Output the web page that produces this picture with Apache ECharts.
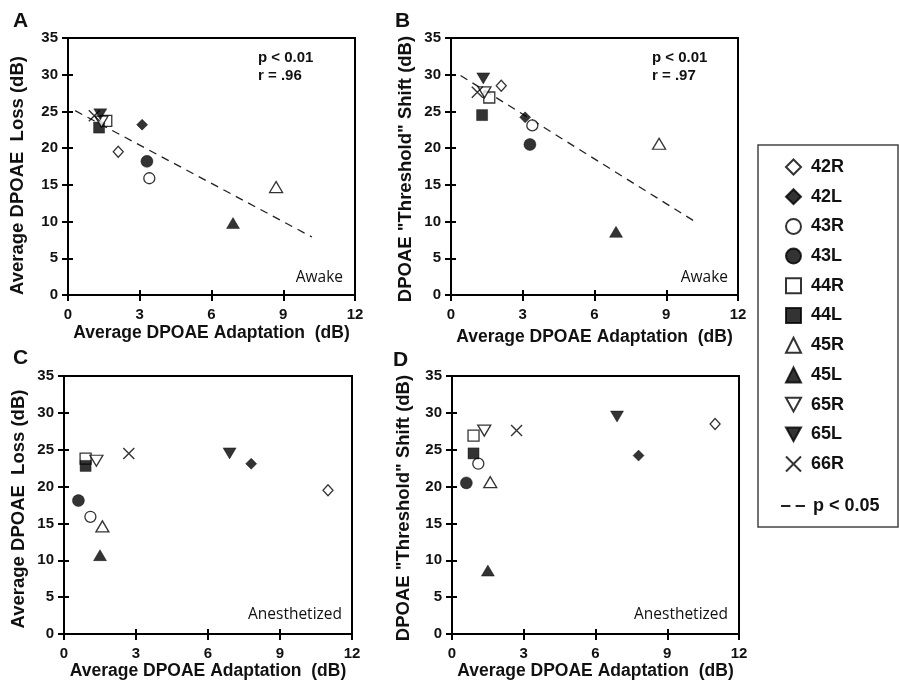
<!DOCTYPE html>
<html><head><meta charset="utf-8">
<script src="https://cdn.jsdelivr.net/npm/echarts@6/dist/echarts.min.js"></script>
<style>html,body{margin:0;padding:0;background:#fff}#c{width:899px;height:680px}</style>
</head><body><div id="c"></div>
<script>
// ---- data ----
const subjects = ['42R','42L','43R','43L','44R','44L','45R','45L','65R','65L','66R'];
const awakeAdapt = [2.1, 3.1, 3.4, 3.3, 1.6, 1.3, 8.7, 6.9, 1.4, 1.35, 1.1];
const awakeLoss  = [19.5, 23.2, 15.9, 18.2, 23.7, 22.8, 14.7, 9.8, 23.6, 24.6, 24.4];
const awakeShift = [28.5, 24.2, 23.1, 20.5, 26.9, 24.5, 20.6, 8.6, 27.6, 29.5, 27.6];
const anesAdapt  = [11.0, 7.8, 1.1, 0.6, 0.9, 0.9, 1.6, 1.5, 1.35, 6.9, 2.7];
const anesLoss   = [19.5, 23.1, 15.9, 18.1, 23.8, 22.8, 14.6, 10.7, 23.5, 24.5, 24.5];
const anesShift  = [28.5, 24.2, 23.1, 20.5, 26.9, 24.5, 20.6, 8.6, 27.6, 29.5, 27.6];
const fitA = [[0.3, 25.1], [10.2, 7.9]];
const fitB = [[0.4, 29.9], [10.3, 9.8]];
const xTickValues = [0, 3, 6, 9, 12];
const yTickValues = [0, 5, 10, 15, 20, 25, 30, 35];
const fitName = 'p < 0.05';

// ---- styles ----
const F = '"Liberation Sans", Arial, Helvetica, sans-serif';
const H = '"Open Sans", "Noto Sans", sans-serif';
const DOWN = 'path://M0,0L12,0L6,11Z';
const XMARK = 'path://M0,0L10,10M10,0L0,10';
const markStyles = [
  {symbol:'diamond', size:[10,11], open:true},
  {symbol:'diamond', size:[11,11], open:false},
  {symbol:'circle', size:11, open:true},
  {symbol:'circle', size:12, open:false},
  {symbol:'rect', size:11, open:true},
  {symbol:'rect', size:11, open:false},
  {symbol:'triangle', size:[13,11], open:true},
  {symbol:'triangle', size:[13,11], open:false},
  {symbol:DOWN, size:[13,11], open:true},
  {symbol:DOWN, size:[13,11], open:false},
  {symbol:XMARK, size:11, open:true, cross:true}
];

const grids = [
  {left:68, top:38, width:287, height:257},
  {left:451, top:38, width:287, height:257},
  {left:64, top:376, width:288, height:258},
  {left:452, top:376, width:287, height:258}
];
const xTitle = 'Average DPOAE Adaptation  (dB)';
const yTitles = ['Average DPOAE  Loss (dB)', 'DPOAE "Threshold" Shift (dB)', 'Average DPOAE  Loss (dB)', 'DPOAE "Threshold" Shift (dB)'];
const xNameGaps = [29, 33, 27, 27];
const yNameGaps = [41, 36, 36, 39];
const yNamePad = [[0,18,0,0],[0,5,0,0],[0,8,0,0],[0,6,0,0]];

const xAxes = [], yAxes = [];
grids.forEach((g, i) => {
  xAxes.push({
    gridIndex: i, type: 'value', min: xTickValues[0], max: xTickValues[xTickValues.length-1], interval: 3,
    name: xTitle, nameLocation: 'middle', nameGap: xNameGaps[i],
    nameTextStyle: {fontSize: 17.5, fontWeight: 'bold', fontFamily: F, color: '#111'},
    axisLine: {show: true, onZero: false, lineStyle: {color: '#000', width: 2}},
    axisTick: {show: true, length: 6, lineStyle: {color: '#000', width: 2}},
    axisLabel: {fontSize: 15, fontWeight: 'bold', fontFamily: F, color: '#111', margin: 12},
    splitLine: {show: false}
  });
  yAxes.push({
    gridIndex: i, type: 'value', min: yTickValues[0], max: yTickValues[yTickValues.length-1], interval: 5,
    name: yTitles[i], nameLocation: 'middle', nameGap: yNameGaps[i], nameRotate: 90,
    nameTextStyle: {fontSize: 18.5, fontWeight: 'bold', fontFamily: F, color: '#111', padding: yNamePad[i]},
    axisLine: {show: true, onZero: false, lineStyle: {color: '#000', width: 2}},
    axisTick: {show: true, length: 6, lineStyle: {color: '#000', width: 2}},
    axisLabel: {fontSize: 15, fontWeight: 'bold', fontFamily: F, color: '#111', margin: 10},
    splitLine: {show: false}
  });
});
// inner half of the crossing tick marks
grids.forEach((g, i) => {
  xAxes.push({
    gridIndex: i, type: 'value', min: xTickValues[0], max: xTickValues[xTickValues.length-1], interval: 3,
    position: 'bottom', axisLine: {show: false, onZero: false},
    axisTick: {show: true, inside: true, length: 5, lineStyle: {color: '#000', width: 2}},
    axisLabel: {show: false}, splitLine: {show: false}
  });
  yAxes.push({
    gridIndex: i, type: 'value', min: yTickValues[0], max: yTickValues[yTickValues.length-1], interval: 5,
    position: 'left', axisLine: {show: false, onZero: false},
    axisTick: {show: true, inside: true, length: 5, lineStyle: {color: '#000', width: 2}},
    axisLabel: {show: false}, splitLine: {show: false}
  });
});

const panels = [
  {xs: awakeAdapt, ys: awakeLoss},
  {xs: awakeAdapt, ys: awakeShift},
  {xs: anesAdapt, ys: anesLoss},
  {xs: anesAdapt, ys: anesShift}
];

const series = [];
[fitA, fitB].forEach((fit, i) => {
  series.push({
    name: fitName, type: 'line', xAxisIndex: i, yAxisIndex: i, data: fit,
    symbol: 'none', z: 1,
    lineStyle: {color: '#222', width: 1.3, type: [8, 6]},
    itemStyle: {color: '#222'}
  });
});
panels.forEach((p, pi) => {
  subjects.forEach((s, si) => {
    const m = markStyles[si];
    series.push({
      name: s, type: 'scatter', xAxisIndex: pi, yAxisIndex: pi, z: 3,
      symbol: m.symbol, symbolSize: m.size,
      data: [[p.xs[si], p.ys[si]]],
      itemStyle: m.cross ? {color: '#000', borderColor: '#000', borderWidth: 1.4}
        : (m.open ? {color: '#fff', borderColor: '#000', borderWidth: 1.3}
                  : {color: '#000', borderColor: '#000', borderWidth: 0.5}),
      emphasis: {disabled: true}
    });
  });
});

function txt(x, y, text, font, size, weight, align) {
  return {type: 'text', x: x, y: y, z: 10,
    style: {text: text, font: weight + ' ' + size + 'px ' + font, fill: '#111', textAlign: align || 'left', textVerticalAlign: 'middle'}};
}

const option = {
  animation: false,
  backgroundColor: '#fff',
  grid: grids.map(g => Object.assign({show: true, borderColor: '#000', borderWidth: 2, backgroundColor: 'transparent', outerBoundsMode: 'none', containLabel: false}, g)),
  xAxis: xAxes,
  yAxis: yAxes,
  legend: [
    {data: subjects, orient: 'vertical', left: 780, top: 153, itemWidth: 15, itemHeight: 15, itemGap: 11.7,
     selectedMode: false,
     textStyle: {fontSize: 18, fontWeight: 'bold', fontFamily: F, color: '#111', lineHeight: 16, padding: [0, 0, 0, 5]}},
    {data: [{name: fitName, icon: 'path://M0,0h9v2h-9zM14,0h9v2h-9z'}], orient: 'vertical', left: 776, top: 492,
     itemWidth: 24, itemHeight: 14, selectedMode: false,
     itemStyle: {color: '#222', borderWidth: 0},
     textStyle: {fontSize: 18, fontWeight: 'bold', fontFamily: F, color: '#111', lineHeight: 16, padding: [0, 0, 0, 3]}}
  ],
  graphic: [
    {type: 'rect', shape: {x: 758, y: 145, width: 140, height: 382}, style: {fill: 'none', stroke: '#444', lineWidth: 1.5}, z: 0},
    txt(13, 21, 'A', F, 21, 'bold'),
    txt(395, 21, 'B', F, 21, 'bold'),
    txt(13, 358, 'C', F, 21, 'bold'),
    txt(393, 360, 'D', F, 21, 'bold'),
    txt(258, 58, 'p < 0.01', F, 15, 'bold'),
    txt(258, 76, 'r = .96', F, 15, 'bold'),
    txt(652, 58, 'p < 0.01', F, 15, 'bold'),
    txt(652, 76, 'r = .97', F, 15, 'bold'),
    txt(343, 278, 'Awake', H, 15.5, 'normal', 'right'),
    txt(728, 278, 'Awake', H, 15.5, 'normal', 'right'),
    txt(342, 615, 'Anesthetized', H, 15.5, 'normal', 'right'),
    txt(728, 615, 'Anesthetized', H, 15.5, 'normal', 'right')
  ],
  series: series
};
echarts.init(document.getElementById('c'), null, {renderer: 'canvas'}).setOption(option);
</script></body></html>
